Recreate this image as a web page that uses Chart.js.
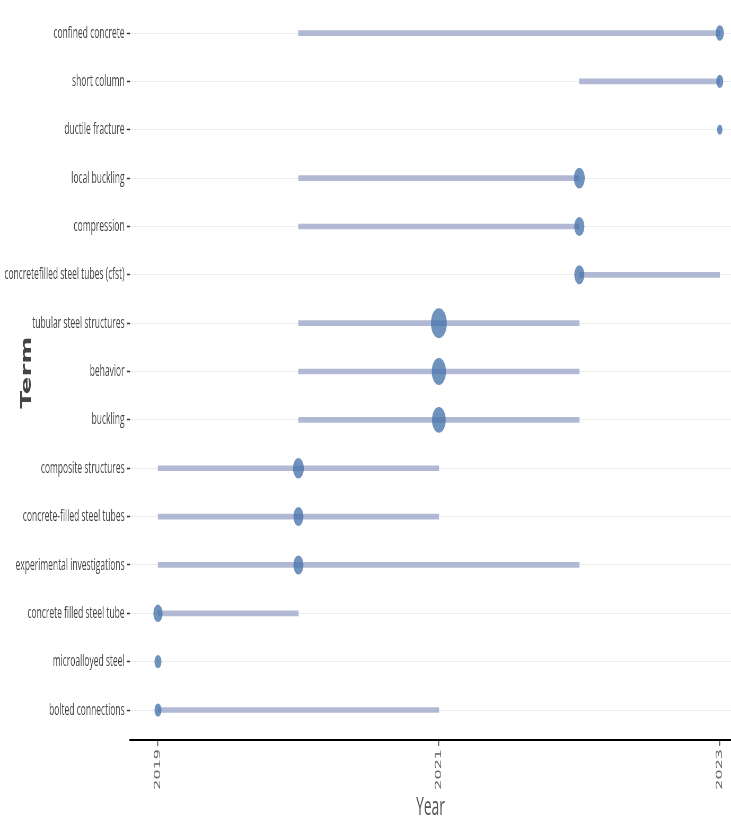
<!DOCTYPE html>
<html>
<head>
<meta charset="utf-8">
<script src="https://cdn.jsdelivr.net/npm/chart.js@4.4.1/dist/chart.umd.min.js"></script>
<style>
  html, body { margin: 0; padding: 0; background: #fff; overflow: hidden; }
  #wrap { position: absolute; left: 0; top: 0; width: 1379px; height: 826px; transform: scaleX(0.5301); transform-origin: 0 0; }
  #c { display: block; width: 1379px; height: 826px; }
</style>
</head>
<body>
<div id="wrap"><canvas id="c" width="1379" height="826"></canvas></div>
<script>
const terms = ["confined concrete","short column","ductile fracture","local buckling","compression","concretefilled steel tubes (cfst)","tubular steel structures","behavior","buckling","composite structures","concrete-filled steel tubes","experimental investigations","concrete filled steel tube","microalloyed steel","bolted connections"];
const yearStart = [2020,2022,2023,2020,2020,2022,2020,2020,2020,2019,2019,2019,2019,2019,2019];
const yearEnd   = [2023,2023,2023,2022,2022,2023,2022,2022,2022,2021,2021,2022,2020,2019,2021];
const yearMedian= [2023,2023,2023,2022,2022,2022,2021,2021,2021,2020,2020,2020,2019,2019,2019];
const freq      = [3,2,1,6,5,5,14,11,10,6,5,5,4,2,2];
const xTickYears = [2019,2021,2023];

const rangeData = terms.map((t,i)=>({x:[yearStart[i], yearEnd[i]], y:i}));
const dotData = terms.map((t,i)=>({x:yearMedian[i], y:i, f:freq[i]}));
const dotRadius = ctx => { const d = ctx.raw; return d ? 1.5 + 3.6*Math.sqrt(d.f) : 3; };

new Chart(document.getElementById('c'), {
  type: 'bar',
  data: {
    datasets: [
      {
        type: 'scatter',
        data: dotData,
        order: 0,
        clip: false,
        backgroundColor: 'rgba(72,117,172,0.78)',
        borderWidth: 0,
        pointRadius: dotRadius,
        pointHoverRadius: dotRadius
      },
      {
        type: 'bar',
        data: rangeData,
        order: 1,
        clip: false,
        backgroundColor: 'rgba(163,173,205,0.85)',
        borderWidth: 0,
        borderSkipped: false,
        barThickness: 5
      }
    ]
  },
  options: {
    indexAxis: 'y',
    responsive: false,
    devicePixelRatio: 1,
    animation: false,
    layout: { autoPadding: false, padding: { top: 5, left: 0, right: 0, bottom: 0 } },
    plugins: { legend: { display: false }, tooltip: { enabled: false } },
    scales: {
      x: {
        type: 'linear',
        min: 2018.8,
        max: 2023.08,
        afterBuildTicks: s => { s.ticks = xTickYears.map(v => ({value: v})); },
        afterFit: s => { s.height = 86; s.paddingLeft = 0; s.paddingRight = 0; },
        border: { display: true, color: '#000', width: 2 },
        grid: { drawOnChartArea: false, drawTicks: true, tickLength: 6, tickColor: '#555', tickWidth: 2 },
        ticks: {
          minRotation: 90, maxRotation: 90, padding: 3,
          color: '#666',
          font: { family: 'DejaVu Sans', size: 16 },
          callback: v => String(v)
        },
        title: {
          display: true, text: 'Year', color: '#555',
          font: { family: 'Open Sans', size: 26 },
          padding: { top: 0, bottom: 3 }
        }
      },
      y: {
        type: 'linear',
        reverse: true,
        offset: false,
        min: -0.58,
        max: 14.62,
        afterBuildTicks: s => { s.ticks = terms.map((t,i) => ({value: i})); },
        afterFit: s => { s.width = 245; s.paddingTop = 0; s.paddingBottom = 0; },
        border: { display: false },
        grid: { offset: false, color: '#ececec', lineWidth: 1, drawTicks: true, tickLength: 6, tickColor: '#333', tickWidth: 1.5 },
        ticks: {
          padding: 4,
          color: '#444',
          font: { family: 'Open Sans', size: 16 },
          callback: v => terms[v]
        },
        title: {
          display: true, text: 'Term', color: '#444',
          font: { family: 'DejaVu Sans', size: 26, weight: 'bold' },
          padding: { top: 36, bottom: 0 }
        }
      }
    }
  }
});
</script>
</body>
</html>
